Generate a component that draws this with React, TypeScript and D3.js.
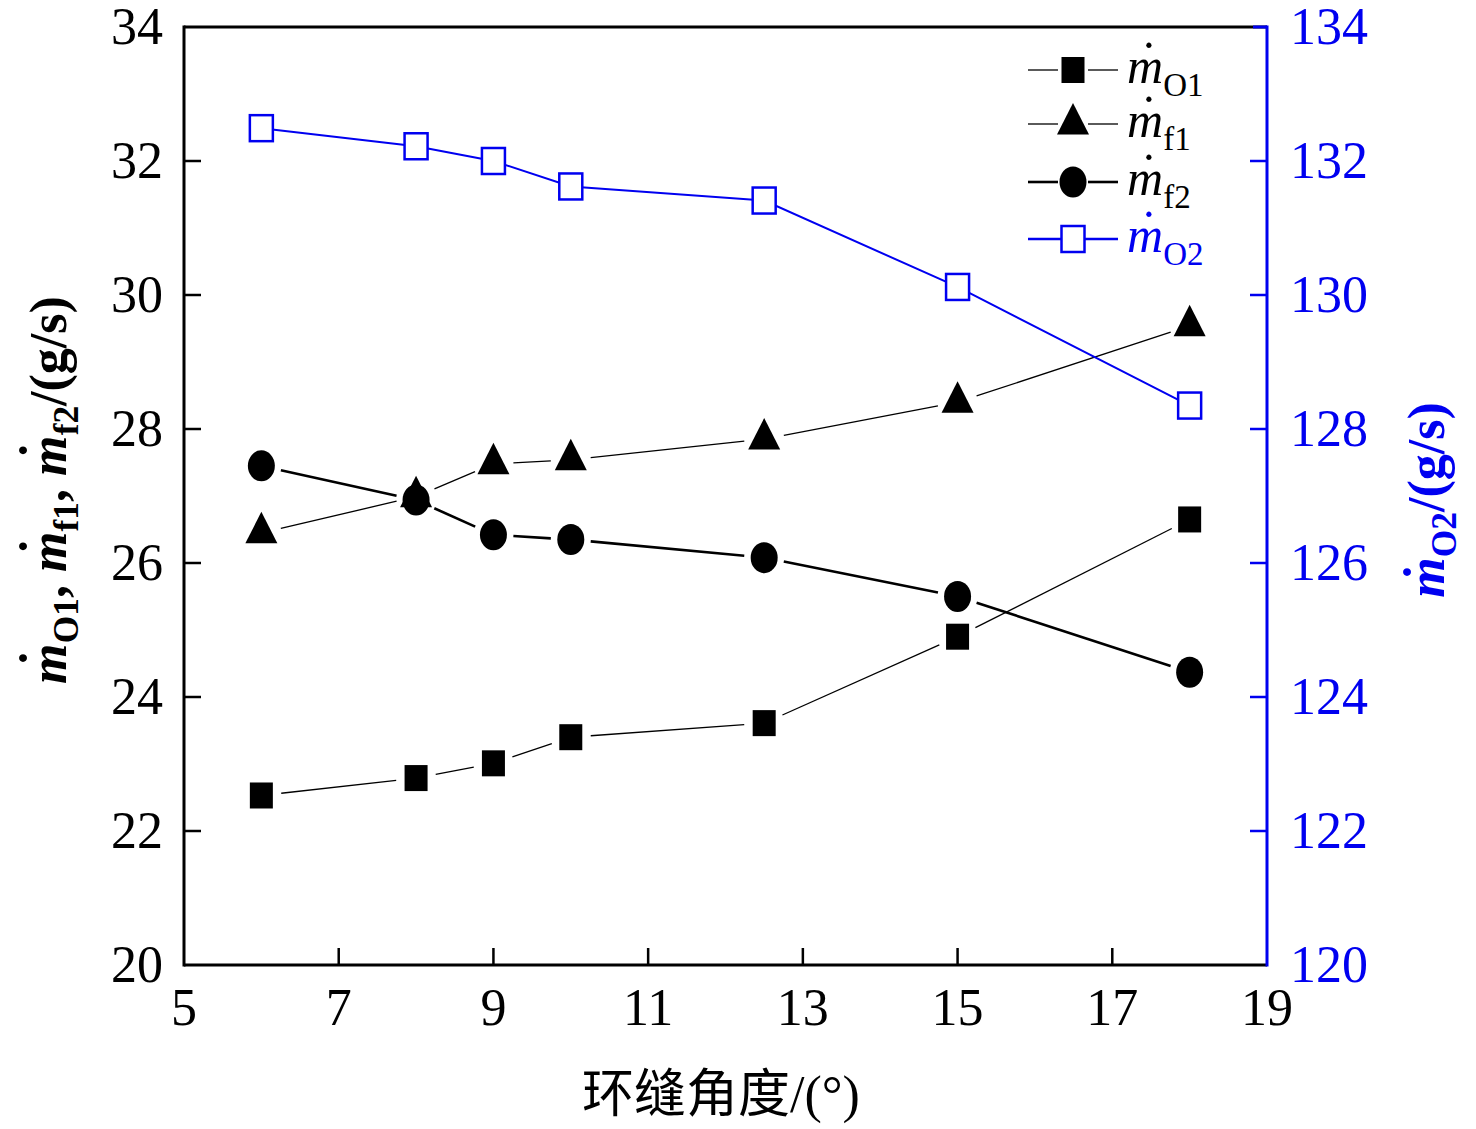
import { useMemo } from 'react';
import * as d3 from 'd3';

// 环缝角度 (°)
const angles = [6, 8, 9, 10, 12.5, 15, 18];
// left axis series, g/s
const mO1 = [22.53, 22.79, 23.01, 23.40, 23.61, 24.90, 26.65];
const mf1 = [26.45, 26.99, 27.48, 27.54, 27.85, 28.40, 29.54];
const mf2 = [27.45, 26.94, 26.42, 26.35, 26.08, 25.50, 24.37];
// right axis series, g/s
const mO2 = [132.49, 132.22, 132.00, 131.62, 131.41, 130.12, 128.35];

const xTicks = [5, 7, 9, 11, 13, 15, 17, 19];
const yLeftTicks = [20, 22, 24, 26, 28, 30, 32, 34];
const yRightTicks = [120, 122, 124, 126, 128, 130, 132, 134];

const W = 1476, H = 1129;
const P = { l: 184, r: 1267, t: 27, b: 965 };
const BLUE = '#0000f0';
const SERIF = '"Liberation Serif", "Times New Roman", serif';

type Part = { m: string } | { t: string };

// text with dotted m and subscripts; baseline reset is carried to the next real glyph
function MLabel({ parts, fs, subRatio = 0.68, drop = 0.22, raise = 0.2 }: { parts: Part[]; fs: number; subRatio?: number; drop?: number; raise?: number }) {
  const sub = fs * subRatio;
  const out: JSX.Element[] = [];
  let pending = 0;
  parts.forEach((p, i) => {
    if ('m' in p) {
      out.push(<tspan key={i + 'm'} fontStyle="italic" dy={pending || undefined}>m</tspan>);
      out.push(<tspan key={i + 'd'} dx={-0.45 * fs} dy={-raise * fs}>{'\u02D9'}</tspan>);
      out.push(<tspan key={i + 's'} dx={0.12 * fs} dy={raise * fs + drop * fs} fontSize={sub}>{p.m}</tspan>);
      pending = -drop * fs;
    } else {
      out.push(<tspan key={i + 't'} dy={pending || undefined}>{p.t}</tspan>);
      pending = 0;
    }
  });
  return <>{out}</>;
}

function trimmed(pts: [number, number][], gap: number) {
  const segs: [number, number, number, number][] = [];
  for (let i = 0; i < pts.length - 1; i++) {
    const [x0, y0] = pts[i], [x1, y1] = pts[i + 1];
    const d = Math.hypot(x1 - x0, y1 - y0);
    const ux = (x1 - x0) / d, uy = (y1 - y0) / d;
    segs.push([x0 + ux * gap, y0 + uy * gap, x1 - ux * gap, y1 - uy * gap]);
  }
  return segs;
}

function Marker({ kind, x, y }: { kind: string; x: number; y: number }) {
  if (kind === 'square') return <rect x={x - 11.5} y={y - 13} width={23} height={26} fill="#000" />;
  if (kind === 'tri') return <path d={`M${x},${y - 21}L${x + 16},${y + 10.5}L${x - 16},${y + 10.5}Z`} fill="#000" />;
  if (kind === 'circle') return <ellipse cx={x} cy={y} rx={13.5} ry={15.5} fill="#000" />;
  return <rect x={x - 11.5} y={y - 13} width={23} height={26} fill="#fff" stroke={BLUE} strokeWidth={2.5} />;
}

export default function App() {
  const x = useMemo(() => d3.scaleLinear().domain([5, 19]).range([P.l, P.r]), []);
  const yL = useMemo(() => d3.scaleLinear().domain([20, 34]).range([P.b, P.t]), []);
  const yR = useMemo(() => d3.scaleLinear().domain([120, 134]).range([P.b, P.t]), []);

  const blackSeries = [
    { vals: mO1, kind: 'square', sw: 1.3 },
    { vals: mf1, kind: 'tri', sw: 1.3 },
    { vals: mf2, kind: 'circle', sw: 2.6 },
  ];
  const blueLine = d3.line<number>().x((_, i) => x(angles[i])).y(d => yR(d))(mO2) ?? '';

  const legend = [
    { kind: 'square', sub: 'O1', sw: 1.3, color: '#000' },
    { kind: 'tri', sub: 'f1', sw: 1.3, color: '#000' },
    { kind: 'circle', sub: 'f2', sw: 2.6, color: '#000' },
    { kind: 'open', sub: 'O2', sw: 2.5, color: BLUE },
  ];
  const legRowY = [70, 124, 182, 239];

  return (
    <svg width={W} height={H} style={{ position: 'absolute', left: 0, top: 0, background: '#fff' }} fontFamily={SERIF}>
      {/* frame */}
      <line x1={P.l} x2={P.r} y1={P.t} y2={P.t} stroke="#000" strokeWidth={3} />
      <line x1={P.l} x2={P.r} y1={P.b} y2={P.b} stroke="#000" strokeWidth={3} />
      <line x1={P.l} x2={P.l} y1={P.t - 1.5} y2={P.b + 1.5} stroke="#000" strokeWidth={3} />
      <line x1={P.r} x2={P.r} y1={P.t - 1.5} y2={P.b + 1.5} stroke={BLUE} strokeWidth={3} />
      <line x1={P.r - 14} x2={P.r} y1={P.t} y2={P.t} stroke={BLUE} strokeWidth={3} />

      {/* x ticks */}
      {xTicks.map(t => (
        <g key={'x' + t}>
          {t > 5 && t < 19 && <line x1={x(t)} x2={x(t)} y1={P.b} y2={P.b - 17} stroke="#000" strokeWidth={2.5} />}
          <text x={x(t)} y={1025} fontSize={52} textAnchor="middle">{t}</text>
        </g>
      ))}
      {/* left ticks */}
      {yLeftTicks.map(t => (
        <g key={'yl' + t}>
          {t > 20 && t < 34 && <line x1={P.l} x2={P.l + 17} y1={yL(t)} y2={yL(t)} stroke="#000" strokeWidth={2.5} />}
          <text x={163} y={yL(t) + 17} fontSize={52} textAnchor="end">{t}</text>
        </g>
      ))}
      {/* right ticks */}
      {yRightTicks.map(t => (
        <g key={'yr' + t}>
          {t > 120 && t < 134 && <line x1={P.r} x2={P.r - 17} y1={yR(t)} y2={yR(t)} stroke={BLUE} strokeWidth={2.5} />}
          <text x={1290} y={yR(t) + 17} fontSize={52} fill={BLUE}>{t}</text>
        </g>
      ))}

      {/* black series */}
      {blackSeries.map((s, si) => {
        const pts = s.vals.map((v, i) => [x(angles[i]), yL(v)] as [number, number]);
        return (
          <g key={'s' + si}>
            {trimmed(pts, 20).map((sg, i) => (
              <line key={i} x1={sg[0]} y1={sg[1]} x2={sg[2]} y2={sg[3]} stroke="#000" strokeWidth={s.sw} />
            ))}
            {pts.map((p, i) => <Marker key={'m' + i} kind={s.kind} x={p[0]} y={p[1]} />)}
          </g>
        );
      })}
      {/* blue series */}
      <path d={blueLine} fill="none" stroke={BLUE} strokeWidth={2} />
      {mO2.map((v, i) => <Marker key={'b' + i} kind="open" x={x(angles[i])} y={yR(v)} />)}

      {/* legend */}
      {legend.map((l, i) => {
        const y = legRowY[i];
        return (
          <g key={'lg' + i}>
            {l.kind === 'open'
              ? <line x1={1028} x2={1118} y1={y} y2={y} stroke={l.color} strokeWidth={l.sw} />
              : <>
                  <line x1={1028} x2={1058} y1={y} y2={y} stroke={l.color} strokeWidth={l.sw} />
                  <line x1={1088} x2={1118} y1={y} y2={y} stroke={l.color} strokeWidth={l.sw} />
                </>}
            <Marker kind={l.kind} x={1073} y={y} />
            <text x={1127} y={y + 13} fontSize={50} fill={l.color}>
              <MLabel parts={[{ m: l.sub }]} fs={50} subRatio={0.66} drop={0.26} raise={0.15} />
            </text>
          </g>
        );
      })}

      {/* axis titles */}
      <text x={721} y={1112} fontSize={52} textAnchor="middle" fontFamily={'"Liberation Serif", "Noto Sans CJK SC", serif'}>
        环缝角度/(°)
      </text>
      <text transform="translate(66,490) rotate(-90)" fontSize={52} fontWeight="bold" textAnchor="middle">
        <MLabel parts={[{ m: 'O1' }, { t: ', ' }, { m: 'f1' }, { t: ', ' }, { m: 'f2' }, { t: '/(g/s)' }]} fs={52} drop={0.24} />
      </text>
      <text transform="translate(1444,500) rotate(-90)" fontSize={52} fontWeight="bold" textAnchor="middle" fill={BLUE}>
        <MLabel parts={[{ m: 'O2' }, { t: '/(g/s)' }]} fs={52} drop={0.24} raise={0.08} />
      </text>
    </svg>
  );
}
